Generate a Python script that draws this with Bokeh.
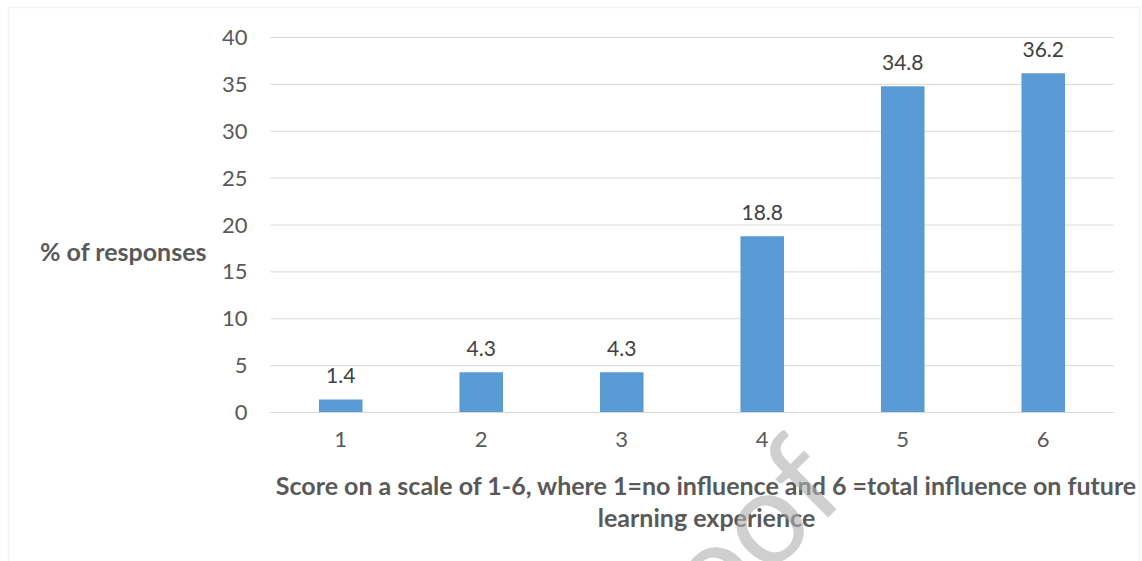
from bokeh.plotting import figure
from bokeh.models import Range1d, FixedTicker, Label, BoxAnnotation, ColumnDataSource
from bokeh.core.properties import value
from bokeh.embed import file_html
from bokeh.resources import INLINE

# Survey results: share of responses for each score
scores = ["1", "2", "3", "4", "5", "6"]
percent = [1.4, 4.3, 4.3, 18.8, 34.8, 36.2]
y_ticks = [0, 5, 10, 15, 20, 25, 30, 35, 40]

y_title = "% of responses"
x_title_1 = "Score on a scale of 1-6, where 1=no influence and 6 =total influence on future"
x_title_2 = "learning experience"

FONT = "Lato"
BAR = "#5b9bd5"
GRID = "#d9d9d9"
TXT = "#595959"

W, H = 1142, 561
# plot area inside the canvas (pixels) and its value extent
PL, PR, PT, PB = 270, 1113, 37, 412
X0, X1, Y0, Y1 = 0.5, 6.5, 0, 40
kx = (PR - PL) / (X1 - X0)
ky = (PB - PT) / (Y1 - Y0)


def dx(px):
    return X0 + (px - PL) / kx


def dy(py):
    return Y0 + (PB - py) / ky


xs = [i + 1 for i in range(len(scores))]
src = ColumnDataSource(dict(x=xs, top=percent, label=[f"{v:.1f}" for v in percent]))

# the frame fills the whole canvas; axes sit at fixed locations inside it
p = figure(width=W, height=H, output_backend="svg", toolbar_location=None,
           x_range=Range1d(dx(0), dx(W)), y_range=Range1d(dy(H), dy(0)),
           min_border=0, min_border_left=0, min_border_right=0,
           min_border_top=0, min_border_bottom=0)
p.outline_line_color = None
p.background_fill_color = "white"
p.border_fill_color = "white"
p.xgrid.visible = False
p.ygrid.visible = False

# horizontal gridlines at the value ticks
p.segment(x0=X0, x1=X1, y0=y_ticks, y1=y_ticks, line_color=GRID, line_width=1)

p.vbar(x="x", top="top", width=0.31, bottom=0, source=src, color=BAR, line_color=None)
p.text(x="x", y="top", text="label", source=src, text_align="center", text_baseline="middle",
       y_offset=-24, text_font=value(FONT), text_font_size="21px", text_color="#404040")

# axes
xa, ya = p.xaxis[0], p.yaxis[0]
xa.fixed_location = Y0
xa.bounds = (X0, X1)
xa.ticker = FixedTicker(ticks=xs)
xa.major_label_overrides = {x: s for x, s in zip(xs, scores)}
xa.axis_line_color = GRID
xa.major_label_standoff = 19
ya.fixed_location = X0
ya.bounds = (Y0, Y1)
ya.ticker = FixedTicker(ticks=y_ticks)
ya.axis_line_color = None
ya.major_label_standoff = 23
for ax in (xa, ya):
    ax.major_tick_line_color = None
    ax.minor_tick_line_color = None
    ax.major_tick_in = 0
    ax.major_tick_out = 0
    ax.major_label_text_font = FONT
    ax.major_label_text_font_size = "22px"
    ax.major_label_text_color = TXT

# titles
p.add_layout(Label(x=dx(123), y=dy(250), text=y_title, text_align="center", text_baseline="middle",
                   text_font=FONT, text_font_style="bold", text_font_size="25px", text_color=TXT))
p.add_layout(Label(x=dx(706), y=dy(484), text=x_title_1, text_align="center", text_baseline="middle",
                   text_font=FONT, text_font_style="bold", text_font_size="25px", text_color=TXT))
p.add_layout(Label(x=dx(706), y=dy(516), text=x_title_2, text_align="center", text_baseline="middle",
                   text_font=FONT, text_font_style="bold", text_font_size="25px", text_color=TXT))

# chart area border
p.add_layout(BoxAnnotation(left=dx(8), right=dx(1139), top=dy(7), bottom=dy(H + 40),
                           fill_alpha=0, line_color=GRID, line_width=1.5))

# diagonal watermark
p.add_layout(Label(x=dx(815), y=dy(459), text="Journal Pre-proof", angle=45, angle_units="deg",
                   text_align="right", text_baseline="alphabetic",
                   text_font=FONT, text_font_size="130px", text_color="#afafaf", text_alpha=0.6))

open("out.html", "w").write(file_html(p, INLINE))
